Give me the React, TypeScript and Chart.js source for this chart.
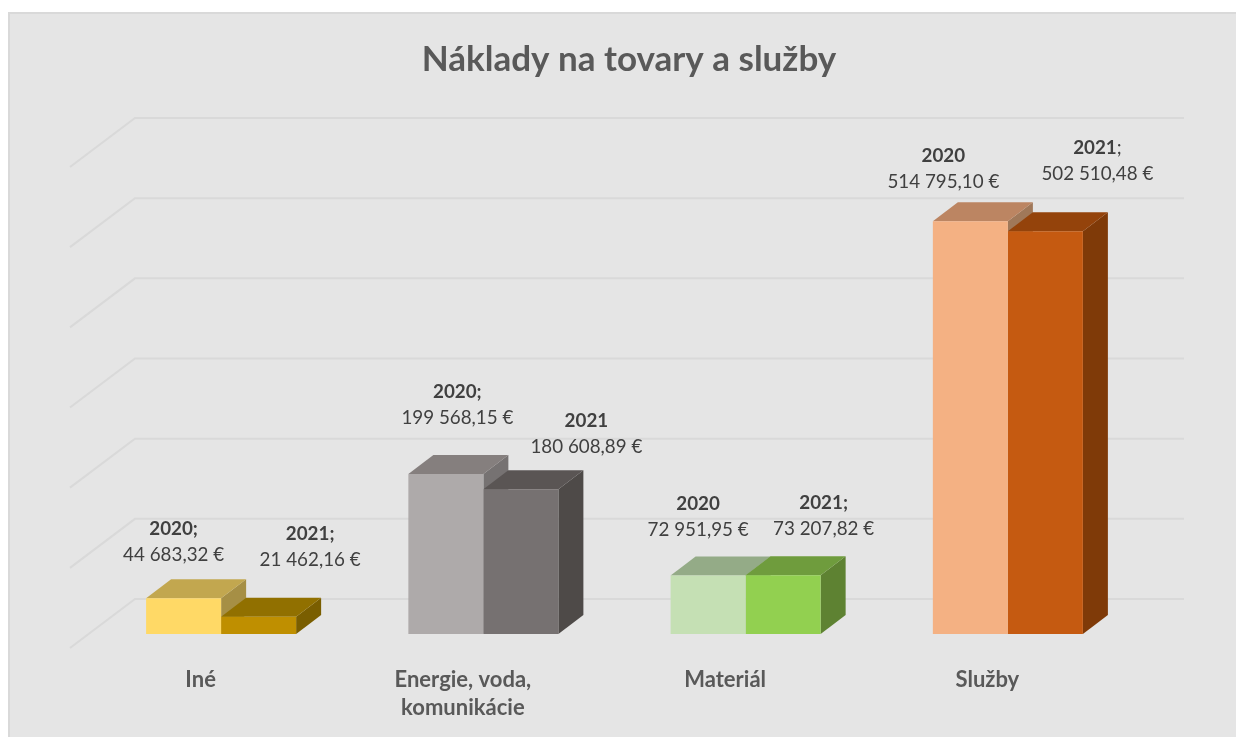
import React, { useEffect, useRef } from "react";
import { Chart, registerables } from "chart.js";

Chart.register(...registerables);

const categories = ["Iné", ["Energie, voda,", "komunikácie"], "Materiál", "Služby"];
const values2020 = [44683.32, 199568.15, 72951.95, 514795.1];
const values2021 = [21462.16, 180608.89, 73207.82, 502510.48];
const heads2020 = ["2020;", "2020;", "2020", "2020"];
const heads2021 = ["2021;", "2021", "2021;", "2021"];
const suffix2021 = ["", "", "", ";"];
const seriesNames = ["2020", "2021"];

const front2020 = ["#FFD966", "#AEAAAA", "#C5E0B4", "#F4B183"];
const top2020 = ["#C2A74F", "#857F7E", "#94AB87", "#BC8562"];
const side2020 = ["#A68F45", "#767272", "#94AB87", "#A07859"];
const front2021 = ["#BF8F00", "#767171", "#92D050", "#C55A11"];
const top2021 = ["#917000", "#5A5554", "#6F9C3D", "#94430B"];
const side2021 = ["#7A5E00", "#4E4A48", "#5E8232", "#7F3A08"];

// label placement relative to each bar: [dx from bar centre, dy from bar top]
const labelShift2020 = [[-10, -43], [11.5, -56], [-10, -45.5], [-27, -39]];
const labelShift2021 = [[51.5, -56.8], [65.5, -42], [40.5, -46.5], [52, -57.5]];

const DEPTH_X = 25;
const DEPTH_Y = 19;
const WALL_DX = 45;
const WALL_DY = 35;
const FLOOR_DX = 65;
const FLOOR_DY = 49;
const FONT = "Lato, Carlito, Calibri, sans-serif";
const LABEL_SIZE = 18.8;

const formatEuro = (v: number) => {
  const [i, d] = v.toFixed(2).split(".");
  return i.replace(/\B(?=(\d{3})+$)/g, " ") + "," + d + " €";
};

const poly = (ctx: CanvasRenderingContext2D, pts: number[][], color: string) => {
  ctx.fillStyle = color;
  ctx.beginPath();
  pts.forEach(([x, y], i) => (i ? ctx.lineTo(x, y) : ctx.moveTo(x, y)));
  ctx.closePath();
  ctx.fill();
};

const scene3d = {
  id: "scene3d",
  afterLayout(chart: any) {
    // title is centred on the plot as a whole, which sits right of the canvas centre
    if (chart.titleBlock) {
      chart.titleBlock.left = 22;
      chart.titleBlock.right = 1236;
    }
  },
  beforeDraw(chart: any) {
    const { ctx, width, height } = chart;
    ctx.save();
    ctx.fillStyle = "#E5E5E5";
    ctx.fillRect(9, 13, width, height);
    ctx.strokeStyle = "#D9D9D9";
    ctx.lineWidth = 2;
    ctx.beginPath();
    ctx.moveTo(9, height);
    ctx.lineTo(9, 13);
    ctx.lineTo(width, 13);
    ctx.stroke();
    ctx.restore();
  },
  beforeDatasetsDraw(chart: any) {
    const { ctx, chartArea, scales } = chart;
    ctx.save();
    ctx.strokeStyle = "#D9D9D9";
    ctx.lineWidth = 2;
    scales.y.ticks.forEach((t: any) => {
      const y = scales.y.getPixelForValue(t.value) - WALL_DY;
      const x0 = chartArea.left + WALL_DX;
      ctx.beginPath();
      ctx.moveTo(x0 - FLOOR_DX, y + FLOOR_DY);
      ctx.lineTo(x0, y);
      ctx.lineTo(chartArea.right + WALL_DX, y);
      ctx.stroke();
    });
    const tops = [top2020, top2021];
    const sides = [side2020, side2021];
    [0, 1].forEach((ds) => {
      chart.getDatasetMeta(ds).data.forEach((el: any, i: number) => {
        const l = el.x - el.width / 2;
        const r = el.x + el.width / 2;
        poly(ctx, [[r, el.y], [r + DEPTH_X, el.y - DEPTH_Y], [r + DEPTH_X, el.base - DEPTH_Y], [r, el.base]], sides[ds][i]);
        poly(ctx, [[l, el.y], [l + DEPTH_X, el.y - DEPTH_Y], [r + DEPTH_X, el.y - DEPTH_Y], [r, el.y]], tops[ds][i]);
      });
    });
    ctx.restore();
  },
  afterDatasetsDraw(chart: any) {
    const { ctx } = chart;
    const heads = [heads2020, heads2021];
    const shifts = [labelShift2020, labelShift2021];
    const data = [values2020, values2021];
    ctx.save();
    ctx.fillStyle = "#404040";
    ctx.textBaseline = "middle";
    [0, 1].forEach((ds) => {
      chart.getDatasetMeta(ds).data.forEach((el: any, i: number) => {
        const cx = el.x + shifts[ds][i][0];
        const vy = el.y + shifts[ds][i][1];
        ctx.textAlign = "center";
        ctx.font = `400 ${LABEL_SIZE}px ${FONT}`;
        ctx.fillText(formatEuro(data[ds][i]), cx, vy);
        const suffix = ds === 1 ? suffix2021[i] : "";
        ctx.font = `700 ${LABEL_SIZE}px ${FONT}`;
        const hw = ctx.measureText(heads[ds][i]).width;
        ctx.font = `400 ${LABEL_SIZE}px ${FONT}`;
        const sw = suffix ? ctx.measureText(suffix).width : 0;
        const sx = cx - (hw + sw) / 2;
        ctx.textAlign = "left";
        ctx.font = `700 ${LABEL_SIZE}px ${FONT}`;
        ctx.fillText(heads[ds][i], sx, vy - 26);
        if (suffix) {
          ctx.font = `400 ${LABEL_SIZE}px ${FONT}`;
          ctx.fillText(suffix, sx + hw, vy - 26);
        }
      });
    });
    ctx.restore();
  },
};

export default function App() {
  const ref = useRef<HTMLCanvasElement | null>(null);
  useEffect(() => {
    const chart = new Chart(ref.current as HTMLCanvasElement, {
      type: "bar",
      data: {
        labels: categories as any,
        datasets: [
          { label: seriesNames[0], data: values2020, backgroundColor: front2020 },
          { label: seriesNames[1], data: values2021, backgroundColor: front2021 },
        ],
      },
      options: {
        responsive: false,
        animation: false,
        layout: { padding: { left: 90, right: 97, top: 0, bottom: 0 } },
        datasets: { bar: { barPercentage: 1, categoryPercentage: 150 / 262.2 } },
        plugins: {
          legend: { display: false },
          tooltip: { enabled: false },
          title: {
            display: true,
            text: "Náklady na tovary a služby",
            color: "#595959",
            font: { family: FONT, size: 35, weight: "700", lineHeight: 1.2 },
            padding: { top: 38.8, bottom: 72.2 },
            fullSize: true,
          },
        },
        scales: {
          x: {
            grid: { display: false, drawTicks: false },
            border: { display: false },
            afterFit: (s: any) => {
              s.height = 103;
            },
            ticks: {
              color: "#595959",
              font: { family: FONT, size: 22, weight: "700", lineHeight: 1.27 },
              padding: 32,
              labelOffset: -20.5,
              maxRotation: 0,
              autoSkip: false,
            },
          },
          y: {
            display: false,
            min: 0,
            max: 600000,
            ticks: { stepSize: 100000 },
          },
        },
      } as any,
      plugins: [scene3d],
    });
    return () => chart.destroy();
  }, []);
  return (
    <canvas
      ref={ref}
      width={1236}
      height={737}
      style={{ position: "fixed", left: 0, top: 0, display: "block" }}
    />
  );
}
